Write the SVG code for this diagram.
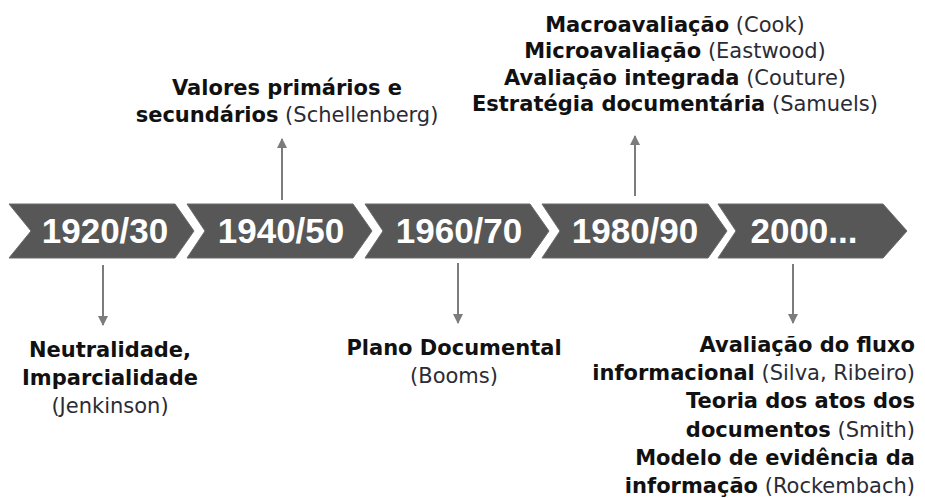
<svg xmlns="http://www.w3.org/2000/svg" width="925" height="498" viewBox="0 0 925 498">
<defs>
<style>
.chev{fill:#575757;stroke:#6a6a6a;stroke-width:1}
.year{font-family:"Liberation Sans",Arial,sans-serif;font-weight:bold;font-size:35px;fill:#ffffff;text-anchor:middle}
.lbl{font-family:"DejaVu Sans","Noto Sans",sans-serif;font-size:21px;fill:#111111}
.b{font-weight:bold;fill:#111111}
.r{font-weight:normal;fill:#2b2b35}
.c{text-anchor:middle}
.e{text-anchor:end}
.conn{stroke:#7c7c7c;stroke-width:2;fill:none;marker-end:url(#ah)}
</style>
<marker id="ah" markerUnits="userSpaceOnUse" markerWidth="12" markerHeight="10" refX="9" refY="5" orient="auto">
<path d="M0,0 L10,5 L0,10 Z" fill="#7c7c7c"/>
</marker>
</defs>
<rect width="925" height="498" fill="#ffffff"/>

<g id="era-1920">
<polygon class="chev" points="9,204 175,204 194,231 175,258 9,258 31,231"/>
<text class="year" x="105" y="243">1920/30</text>
</g>
<g id="era-1940">
<polygon class="chev" points="187,204 353,204 372,231 353,258 187,258 205,231"/>
<text class="year" x="281" y="243">1940/50</text>
</g>
<g id="era-1960">
<polygon class="chev" points="365,204 530,204 549,231 530,258 365,258 383,231"/>
<text class="year" x="459" y="243">1960/70</text>
</g>
<g id="era-1980">
<polygon class="chev" points="542,204 708,204 727,231 708,258 542,258 560,231"/>
<text class="year" x="635" y="243">1980/90</text>
</g>
<g id="era-2000">
<polygon class="chev" points="718,204 883,204 907,231 883,258 718,258 736,231"/>
<text class="year" x="804" y="243">2000...</text>
</g>

<g id="connectors">
<line class="conn" x1="282" y1="200" x2="282" y2="139"/>
<line class="conn" x1="635" y1="196" x2="635" y2="136"/>
<line class="conn" x1="103" y1="265" x2="103" y2="325"/>
<line class="conn" x1="458" y1="263" x2="458" y2="323"/>
<line class="conn" x1="793" y1="264" x2="793" y2="323"/>
</g>

<g id="label-1940">
<text class="lbl c" x="287" y="95"><tspan class="b">Valores primários e</tspan></text>
<text class="lbl c" x="287" y="122"><tspan class="b">secundários</tspan> <tspan class="r">(Schellenberg)</tspan></text>
</g>

<g id="label-1980">
<text class="lbl c" x="675" y="32"><tspan class="b">Macroavaliação</tspan> <tspan class="r">(Cook)</tspan></text>
<text class="lbl c" x="675" y="58"><tspan class="b">Microavaliação</tspan> <tspan class="r">(Eastwood)</tspan></text>
<text class="lbl c" x="675" y="85"><tspan class="b">Avaliação integrada</tspan> <tspan class="r">(Couture)</tspan></text>
<text class="lbl c" x="675" y="111"><tspan class="b">Estratégia documentária</tspan> <tspan class="r">(Samuels)</tspan></text>
</g>

<g id="label-1920">
<text class="lbl c" x="110" y="357"><tspan class="b">Neutralidade,</tspan></text>
<text class="lbl c" x="110" y="385"><tspan class="b">Imparcialidade</tspan></text>
<text class="lbl c" x="110" y="413"><tspan class="r">(Jenkinson)</tspan></text>
</g>

<g id="label-1960">
<text class="lbl c" x="454" y="355"><tspan class="b">Plano Documental</tspan></text>
<text class="lbl c" x="454" y="383"><tspan class="r">(Booms)</tspan></text>
</g>

<g id="label-2000">
<text class="lbl e" x="915" y="352"><tspan class="b">Avaliação do fluxo</tspan></text>
<text class="lbl e" x="915" y="380"><tspan class="b">informacional</tspan> <tspan class="r">(Silva, Ribeiro)</tspan></text>
<text class="lbl e" x="915" y="408"><tspan class="b">Teoria dos atos dos</tspan></text>
<text class="lbl e" x="915" y="437"><tspan class="b">documentos</tspan> <tspan class="r">(Smith)</tspan></text>
<text class="lbl e" x="915" y="465"><tspan class="b">Modelo de evidência da</tspan></text>
<text class="lbl e" x="915" y="493"><tspan class="b">informação</tspan> <tspan class="r">(Rockembach)</tspan></text>
</g>
</svg>
